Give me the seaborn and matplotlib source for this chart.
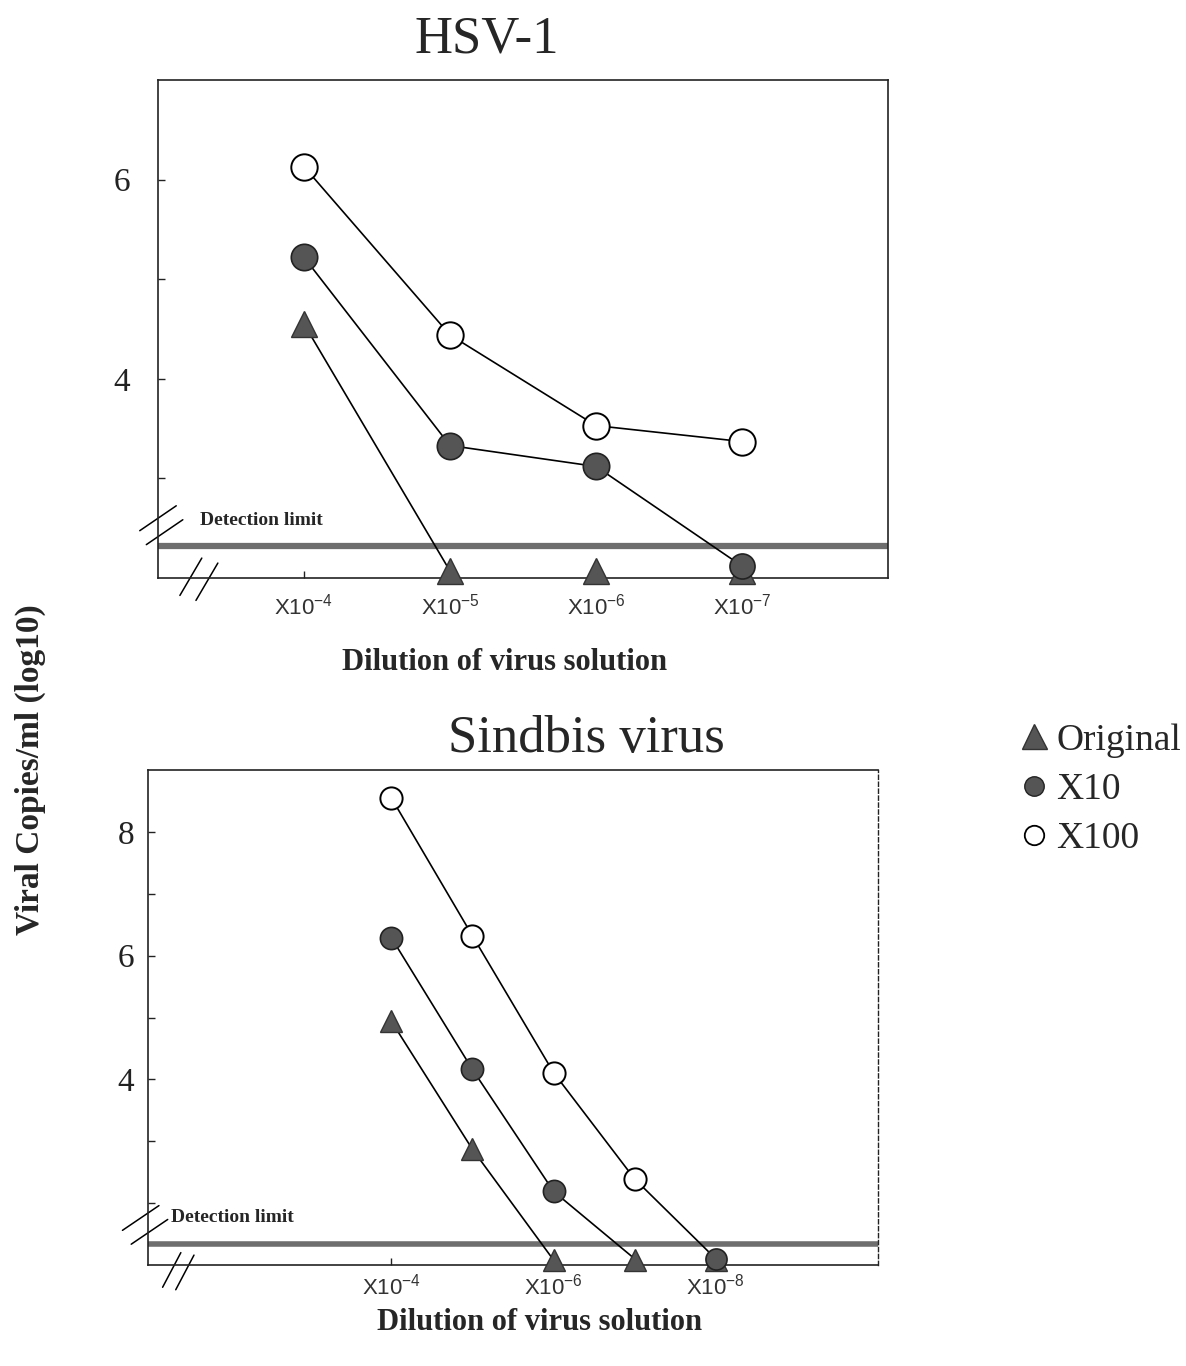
import numpy as np
import matplotlib
matplotlib.use("Agg")
import matplotlib.pyplot as plt
from matplotlib.lines import Line2D
import seaborn as sns

# HSV-1 panel: dilution exponent 4..7 (X10^-4 .. X10^-7); None = below detection limit
hsv_dil = [4, 5, 6, 7]
hsv_original = [4.55, None, None, None]
hsv_x10 = [5.22, 3.33, 3.12, None]
hsv_x100 = [6.13, 4.44, 3.53, 3.37]
hsv_limit = 2.32
hsv_floor_tri = 2.07
hsv_floor_circ = 2.12
hsv_floor_tri_x = [5, 6, 7]
hsv_floor_circ_x = [7]

# Sindbis panel: dilution exponent 4..8
sin_dil = [4, 5, 6, 7, 8]
sin_original = [4.94, 2.87, None, None, None]
sin_x10 = [6.29, 4.16, 2.19, None, None]
sin_x100 = [8.55, 6.32, 4.11, 2.39, None]
sin_limit = 1.34
sin_floor_tri = 1.08
sin_floor_circ = 1.10
sin_floor_tri_x = [6, 7, 8]
sin_floor_circ_x = [8]

legend_labels = ["Original", "X10", "X100"]

sns.set_style("ticks")
plt.rcParams["font.family"] = ["Liberation Serif", "DejaVu Serif"]
plt.rcParams["mathtext.fontset"] = "custom"
plt.rcParams["mathtext.rm"] = "Liberation Sans"
plt.rcParams["mathtext.it"] = "Liberation Sans"

FILL = "#555555"


def series_line(dil, vals, floor):
    # connect measured points and drop to the floor at the first undetected dilution
    xs, ys = [], []
    for d, v in zip(dil, vals):
        if v is None:
            xs.append(d)
            ys.append(floor)
            break
        xs.append(d)
        ys.append(v)
    return xs, ys


def measured(dil, vals):
    xs = [d for d, v in zip(dil, vals) if v is not None]
    ys = [v for v in vals if v is not None]
    return xs, ys


def break_marks(ax, x0, y0, dx, dy, gap_x, gap_y):
    for k in range(2):
        ax.plot([x0 + k * gap_x, x0 + k * gap_x + dx], [y0 + k * gap_y, y0 + k * gap_y + dy],
                transform=ax.transAxes, color="black", lw=1.1, clip_on=False)


def draw_panel(ax, dil, orig, x10, x100, limit, ftri, fcirc, tri_x, circ_x, ms, lim_lw):
    for vals, floor in [(orig, ftri), (x10, fcirc), (x100, fcirc)]:
        xs, ys = series_line(dil, vals, floor)
        sns.lineplot(x=xs, y=ys, ax=ax, color="black", lw=1.2, sort=False,
                     estimator=None, zorder=3)
    ax.axhline(limit, color="#6e6e6e", lw=lim_lw, zorder=2)

    xs, ys = measured(dil, orig)
    ax.plot(xs, ys, ls="none", marker="^", ms=ms, mfc=FILL, mec="#333333", mew=1, zorder=4)
    ax.plot(tri_x, [ftri] * len(tri_x), ls="none", marker="^", ms=ms, mfc=FILL,
            mec="#333333", mew=1, zorder=4, clip_on=False)
    xs, ys = measured(dil, x10)
    ax.plot(xs, ys, ls="none", marker="o", ms=ms, mfc=FILL, mec="#222222", mew=1.2, zorder=5)
    ax.plot(circ_x, [fcirc] * len(circ_x), ls="none", marker="o", ms=ms * 0.95, mfc=FILL,
            mec="#222222", mew=1.2, zorder=5, clip_on=False)
    xs, ys = measured(dil, x100)
    ax.plot(xs, ys, ls="none", marker="o", ms=ms, mfc="white", mec="black", mew=1.4, zorder=5)

    for s in ax.spines.values():
        s.set_visible(True)
        s.set_linewidth(1.2)
        s.set_color("#222222")
    ax.tick_params(axis="both", which="both", direction="in", length=5, width=1,
                   color="#222222")
    ax.tick_params(axis="y", labelsize=24, labelcolor="#222222")
    ax.tick_params(axis="x", labelsize=16, labelcolor="#333333")
    for lab in ax.get_xticklabels():
        lab.set_fontfamily("Liberation Sans")


fig = plt.figure(figsize=(11.86, 13.66), dpi=100)

# --- HSV-1
ax1 = fig.add_axes([158 / 1186, 1 - 578 / 1366, 730 / 1186, 498 / 1366])
ax1.set_xlim(3, 8)
ax1.set_ylim(2, 7)
ax1.set_xticks(hsv_dil)
ax1.set_xticklabels([f"X10$^{{-{d}}}$" for d in hsv_dil])
ax1.set_yticks([4, 6])
ax1.set_yticks([3, 5], minor=True)
draw_panel(ax1, hsv_dil, hsv_original, hsv_x10, hsv_x100, hsv_limit,
           hsv_floor_tri, hsv_floor_circ, hsv_floor_tri_x, hsv_floor_circ_x, 19, 4.5)
ax1.tick_params(axis="y", pad=20)
ax1.tick_params(axis="x", pad=11)
ax1.set_title("HSV-1", fontsize=38, pad=20, x=0.45)
ax1.text(0.058, 0.098, "Detection limit", transform=ax1.transAxes, fontsize=14,
         fontweight="bold", va="bottom")
break_marks(ax1, -0.025, 0.095, 0.05, 0.05, 0.009, -0.028)
break_marks(ax1, 0.03, -0.035, 0.03, 0.075, 0.022, -0.01)
ax1.set_xlabel("")
ax1.set_ylabel("")

# --- Sindbis virus
ax2 = fig.add_axes([148 / 1186, 1 - 1265 / 1366, 730 / 1186, 495 / 1366])
ax2.set_xlim(1, 10)
ax2.set_ylim(1, 9)
ax2.set_xticks([4, 6, 8])
ax2.set_xticklabels([f"X10$^{{-{d}}}$" for d in [4, 6, 8]])
ax2.set_yticks([4, 6, 8])
ax2.set_yticks([2, 3, 5, 7], minor=True)
draw_panel(ax2, sin_dil, sin_original, sin_x10, sin_x100, sin_limit,
           sin_floor_tri, sin_floor_circ, sin_floor_tri_x, sin_floor_circ_x, 16, 4)
ax2.tick_params(axis="y", pad=10)
ax2.tick_params(axis="x", pad=6)
ax2.set_title("Sindbis virus", fontsize=38, pad=13, x=0.6)
ax2.text(0.032, 0.078, "Detection limit", transform=ax2.transAxes, fontsize=14,
         fontweight="bold", va="bottom")
break_marks(ax2, -0.035, 0.07, 0.05, 0.05, 0.012, -0.028)
break_marks(ax2, 0.02, -0.045, 0.025, 0.07, 0.018, -0.005)
ax2.spines["right"].set_linestyle((0, (3, 2)))
ax2.spines["right"].set_linewidth(1)

fig.text(505 / 1186, 1 - 663 / 1366, "Dilution of virus solution", ha="center",
         va="center", fontsize=22, fontweight="bold")
fig.text(540 / 1186, 1 - 1322 / 1366, "Dilution of virus solution", ha="center",
         va="center", fontsize=22, fontweight="bold")
fig.text(30 / 1186, 1 - 770 / 1366, "Viral Copies/ml (log10)", rotation=90,
         ha="center", va="center", fontsize=24, fontweight="bold")

handles = [
    Line2D([], [], ls="none", marker="^", ms=18, mfc=FILL, mec="#333333", label=legend_labels[0]),
    Line2D([], [], ls="none", marker="o", ms=14, mfc=FILL, mec="#222222", label=legend_labels[1]),
    Line2D([], [], ls="none", marker="o", ms=14, mfc="white", mec="black", mew=1.3,
           label=legend_labels[2]),
]
fig.legend(handles=handles, loc="upper left", bbox_to_anchor=(1004 / 1186, 1 - 708 / 1366),
           frameon=False, fontsize=27, handlelength=0.8, handletextpad=0.2,
           labelspacing=0.39, borderaxespad=0)

fig.savefig("out.png", dpi=100)
